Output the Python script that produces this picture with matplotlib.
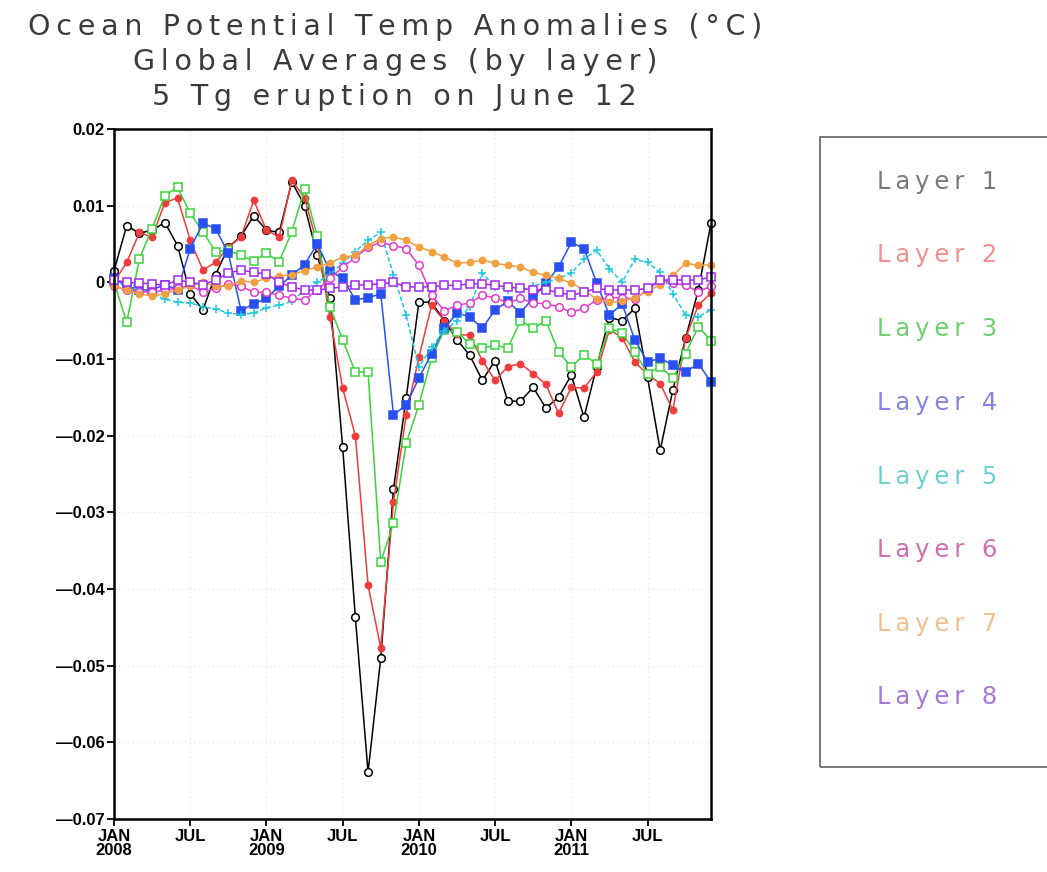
import numpy as np
import matplotlib
matplotlib.use("Agg")
import matplotlib.pyplot as plt
from matplotlib.patches import Rectangle

# monthly global means, JAN 2008 .. DEC 2011
months = np.arange(48)

layer1 = [0.0015, 0.0074, 0.0064, 0.0068, 0.0078, 0.0048, -0.0015, -0.0036, 0.0010, 0.0046,
          0.0060, 0.0087, 0.0068, 0.0065, 0.0131, 0.0100, 0.0035, -0.0020, -0.0215, -0.0437,
          -0.0639, -0.0490, -0.0270, -0.0151, -0.0026, -0.0026, -0.0050, -0.0075, -0.0095, -0.0128,
          -0.0102, -0.0155, -0.0155, -0.0137, -0.0164, -0.0150, -0.0121, -0.0176, -0.0110, -0.0046,
          -0.0050, -0.0034, -0.0124, -0.0219, -0.0140, -0.0073, -0.0010, 0.0077]
layer2 = [0.0000, 0.0026, 0.0065, 0.0059, 0.0104, 0.0110, 0.0055, 0.0016, 0.0026, 0.0046,
          0.0059, 0.0107, 0.0068, 0.0059, 0.0133, 0.0110, 0.0050, -0.0045, -0.0138, -0.0200,
          -0.0395, -0.0477, -0.0287, -0.0173, -0.0098, -0.0030, -0.0050, -0.0068, -0.0069, -0.0102,
          -0.0128, -0.0110, -0.0106, -0.0119, -0.0133, -0.0171, -0.0137, -0.0138, -0.0117, -0.0062,
          -0.0072, -0.0104, -0.0120, -0.0132, -0.0167, -0.0073, -0.0030, -0.0014]
layer3 = [0.0000, -0.0052, 0.0031, 0.0070, 0.0113, 0.0124, 0.0090, 0.0066, 0.0040, 0.0042,
          0.0035, 0.0028, 0.0038, 0.0027, 0.0066, 0.0122, 0.0060, -0.0032, -0.0075, -0.0117,
          -0.0117, -0.0365, -0.0314, -0.0210, -0.0160, -0.0099, -0.0062, -0.0065, -0.0080, -0.0086,
          -0.0082, -0.0086, -0.0050, -0.0060, -0.0050, -0.0091, -0.0110, -0.0095, -0.0106, -0.0060,
          -0.0066, -0.0091, -0.0119, -0.0110, -0.0125, -0.0093, -0.0058, -0.0076]
layer4 = [0.0005, -0.0005, -0.0010, -0.0010, -0.0003, -0.0010, 0.0044, 0.0077, 0.0070, 0.0038,
          -0.0037, -0.0028, -0.0021, -0.0005, 0.0009, 0.0023, 0.0050, 0.0015, 0.0005, -0.0023,
          -0.0020, -0.0015, -0.0173, -0.0160, -0.0125, -0.0093, -0.0060, -0.0040, -0.0045, -0.0060,
          -0.0036, -0.0025, -0.0040, -0.0020, -0.0001, 0.0020, 0.0052, 0.0044, -0.0001, -0.0043,
          -0.0028, -0.0075, -0.0104, -0.0099, -0.0108, -0.0117, -0.0106, -0.0130]
layer5 = [0.0000, -0.0005, -0.0010, -0.0015, -0.0022, -0.0026, -0.0027, -0.0032, -0.0035, -0.0040,
          -0.0042, -0.0040, -0.0033, -0.0030, -0.0025, -0.0010, 0.0000, 0.0010, 0.0025, 0.0040,
          0.0055, 0.0065, 0.0010, -0.0043, -0.0110, -0.0085, -0.0063, -0.0050, -0.0032, 0.0012,
          -0.0006, -0.0010, -0.0010, -0.0005, 0.0000, 0.0005, 0.0012, 0.0030, 0.0042, 0.0018,
          0.0000, 0.0030, 0.0026, 0.0013, -0.0015, -0.0043, -0.0045, -0.0036]
layer6 = [-0.0005, -0.0010, -0.0012, -0.0013, -0.0010, -0.0008, -0.0004, -0.0013, -0.0008, -0.0002,
          -0.0005, -0.0013, -0.0013, -0.0017, -0.0021, -0.0023, -0.0010, 0.0005, 0.0020, 0.0032,
          0.0046, 0.0052, 0.0048, 0.0044, 0.0022, -0.0017, -0.0037, -0.0030, -0.0027, -0.0017,
          -0.0020, -0.0027, -0.0021, -0.0027, -0.0028, -0.0032, -0.0039, -0.0034, -0.0023, -0.0020,
          -0.0020, -0.0022, -0.0010, 0.0003, -0.0001, -0.0004, -0.0012, -0.0005]
layer7 = [-0.0005, -0.0010, -0.0015, -0.0018, -0.0015, -0.0010, -0.0005, 0.0000, -0.0005, -0.0005,
          0.0002, 0.0000, 0.0005, 0.0008, 0.0010, 0.0015, 0.0020, 0.0025, 0.0033, 0.0035,
          0.0048, 0.0057, 0.0059, 0.0055, 0.0046, 0.0040, 0.0033, 0.0025, 0.0026, 0.0029,
          0.0025, 0.0022, 0.0020, 0.0013, 0.0009, 0.0005, -0.0001, -0.0010, -0.0022, -0.0026,
          -0.0025, -0.0020, -0.0012, -0.0003, 0.0009, 0.0025, 0.0022, 0.0023]
layer8 = [0.0003, 0.0000, -0.0001, -0.0002, -0.0004, 0.0003, 0.0000, -0.0003, 0.0003, 0.0012,
          0.0016, 0.0013, 0.0011, 0.0000, -0.0006, -0.0010, -0.0010, -0.0008, -0.0006, -0.0004,
          -0.0003, -0.0002, 0.0000, -0.0006, -0.0006, -0.0006, -0.0004, -0.0004, -0.0002, -0.0002,
          -0.0004, -0.0006, -0.0008, -0.0010, -0.0010, -0.0013, -0.0017, -0.0013, -0.0008, -0.0010,
          -0.0010, -0.0010, -0.0008, 0.0003, 0.0003, 0.0003, 0.0003, 0.0007]

layer_names = ['Layer 1', 'Layer 2', 'Layer 3', 'Layer 4',
               'Layer 5', 'Layer 6', 'Layer 7', 'Layer 8']
xtick_pos = [0, 6, 12, 18, 24, 30, 36, 42]
xtick_labels = ['JAN\n2008', 'JUL', 'JAN\n2009', 'JUL', 'JAN\n2010', 'JUL', 'JAN\n2011', 'JUL']
ytick_pos = [0.02, 0.01, 0.0, -0.01, -0.02, -0.03, -0.04, -0.05, -0.06, -0.07]
ytick_labels = ['0.02', '0.01', '0', '\u20140.01', '\u20140.02', '\u20140.03',
                '\u20140.04', '\u20140.05', '\u20140.06', '\u20140.07']

# line colour, marker, marker filled?, linestyle
styles = [
    ('black',   'o', False, '-'),
    ('#f03c3c', 'o', True,  '-'),
    ('#3cd23c', 's', False, '-'),
    ('#2850f0', 's', True,  '-'),
    ('#1ec8dc', '+', True,  (0, (3, 1.5))),
    ('#e23cc8', 'o', False, '-'),
    ('#f0a040', 'o', True,  '-'),
    ('#a028f0', 's', False, '-'),
]
legend_colors = ['#7a7a7a', '#f09090', '#70d070', '#8585e0',
                 '#70d0d0', '#d070b0', '#f0c090', '#a878d8']


def spaced(text):
    # open up the letter spacing with thin spaces
    return '\u2009'.join(text)


plt.rcParams['font.family'] = ['Liberation Sans', 'DejaVu Sans']

fig = plt.figure(figsize=(10.47, 8.72), dpi=100)
ax = fig.add_axes([0.1089, 0.0608, 0.5702, 0.7913])

series = [layer1, layer2, layer3, layer4, layer5, layer6, layer7, layer8]
for vals, (col, mk, filled, ls) in zip(series, styles):
    size = 4.5 if (filled and mk == 'o') else 5.5
    ax.plot(months, vals, color=col, linestyle=ls, linewidth=1.1,
            marker=mk, markersize=size, markeredgewidth=1.1,
            markerfacecolor=col if filled else 'white',
            markeredgecolor=col, clip_on=False)

ax.set_xlim(0, 47)
ax.set_ylim(-0.07, 0.02)
ax.set_xticks(xtick_pos)
ax.set_xticklabels(xtick_labels, fontsize=12, fontweight='bold', linespacing=0.95)
ax.set_yticks(ytick_pos)
ax.set_yticklabels(ytick_labels, fontsize=12, fontweight='bold')
ax.tick_params(direction='out', length=5, width=1.3, pad=2)
ax.grid(True, color='#e4e4e4', linestyle=(0, (1, 3)), linewidth=0.8)
for sp in ax.spines.values():
    sp.set_linewidth(1.8)

# three-line title
title_lines = ['Ocean Potential Temp Anomalies (\u00b0C)',
               'Global Averages (by layer)',
               '5 Tg eruption on June 12']
for k, line in enumerate(title_lines):
    fig.text(0.377, 1 - (27 + 35 * k) / 872, spaced(line), ha='center', va='center',
             fontsize=20.5, color='#3a3a3a', family='DejaVu Sans')

# legend panel on the right
fig.patches.append(Rectangle((820 / 1047, 1 - 767 / 872), 0.3, (767 - 137) / 872,
                              transform=fig.transFigure, fill=False,
                              edgecolor='#777777', linewidth=1.4))
legend_y = [182, 255, 329, 403, 477, 550, 624, 697]
for name, col, yy in zip(layer_names, legend_colors, legend_y):
    fig.text(877 / 1047, 1 - yy / 872, spaced(name), ha='left', va='center',
             fontsize=17.5, color=col, family='DejaVu Sans')

fig.savefig('out.png', dpi=100)
